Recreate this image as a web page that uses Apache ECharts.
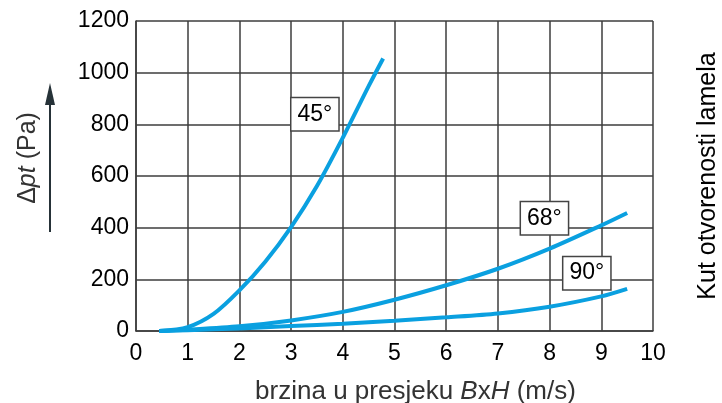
<!DOCTYPE html>
<html>
<head>
<meta charset="utf-8">
<script src="https://cdn.jsdelivr.net/npm/echarts@6/dist/echarts.min.js"></script>
<style>html,body{margin:0;padding:0;background:#fff}#c{width:722px;height:403px}</style>
</head>
<body>
<div id="c"></div>
<script>
// Tick settings
const xMin = 0, xMax = 10, xStep = 1;
const yMin = 0, yMax = 1200, yStep = 200;

// Curve 45°
const x45 = [0.45, 1, 1.5, 2, 2.5, 3, 3.5, 4, 4.5, 4.78];
const y45 = [0, 15, 66, 157, 268, 402, 561, 748, 948, 1055];
// Curve 68°
const x68 = [0.45, 1, 2, 3, 4, 5, 6, 7, 8, 9, 9.5];
const y68 = [0, 5, 18, 41, 74, 121, 177, 241, 319, 409, 457];
// Curve 90°
const x90 = [0.45, 1, 2, 3, 4, 5, 6, 7, 8, 9, 9.5];
const y90 = [0, 3, 10, 19, 28, 40, 53, 68, 94, 134, 163];

const seriesNames = ['45°', '68°', '90°'];
// label anchor positions in data coordinates
const labelX = [3.46, 7.9, 8.72];
const labelY = [839, 436, 224];

const FONT = '"Liberation Sans", Arial, Helvetica, sans-serif';
const lineColor = '#0aa0e0';
const gridColor = '#3c3c3c';

const toPairs = (xs, ys) => xs.map((x, i) => [x, ys[i]]);
const curves = [toPairs(x45, y45), toPairs(x68, y68), toPairs(x90, y90)];

const chart = echarts.init(document.getElementById('c'), null, {renderer: 'canvas'});

const series = curves.map((data, i) => ({
  name: seriesNames[i],
  type: 'line',
  data: data,
  smooth: 0.3,
  showSymbol: false,
  symbol: 'none',
  lineStyle: {color: lineColor, width: 4, cap: 'butt'},
  z: 3,
  silent: true,
  markPoint: {
    symbol: 'rect',
    symbolSize: 0.01,
    silent: true,
    z: 5,
    label: {
      show: true,
      position: 'inside',
      formatter: seriesNames[i],
      fontFamily: FONT,
      fontSize: 23,
      color: '#000',
      backgroundColor: '#fff',
      borderColor: '#444',
      borderWidth: 1.5,
      padding: [5, 6, 4, 6],
      lineHeight: 23
    },
    data: [{coord: [labelX[i], labelY[i]]}]
  }
}));

chart.setOption({
  animation: false,
  backgroundColor: '#fff',
  grid: {left: 136, top: 21, right: 69, bottom: 72, containLabel: false, outerBoundsMode: 'none'},
  xAxis: {
    type: 'value', min: xMin, max: xMax, interval: xStep,
    name: '{n|brzina u presjeku }{i|B}{n|x}{i|H}{n| (m/s)}',
    nameLocation: 'middle',
    nameGap: 48,
    nameTextStyle: {
      padding: [0, 0, 0, 42],
      rich: {
        n: {fontFamily: FONT, fontSize: 26, color: '#333'},
        i: {fontFamily: FONT, fontSize: 26, color: '#333', fontStyle: 'italic'}
      }
    },
    axisLine: {show: true, lineStyle: {color: gridColor, width: 1.5}},
    axisTick: {show: false},
    axisLabel: {fontFamily: FONT, fontSize: 23, color: '#000', margin: 11},
    splitLine: {show: true, lineStyle: {color: gridColor, width: 1.5}}
  },
  yAxis: {
    type: 'value', min: yMin, max: yMax, interval: yStep,
    axisLine: {show: true, lineStyle: {color: gridColor, width: 1.5}},
    axisTick: {show: false},
    axisLabel: {fontFamily: FONT, fontSize: 23, color: '#000', margin: 7, formatter: v => String(v)},
    splitLine: {show: true, lineStyle: {color: gridColor, width: 1.5}}
  },
  graphic: [
    {
      type: 'text',
      x: 28, y: 158,
      rotation: Math.PI / 2,
      style: {
        text: '{n|Δ}{i|pt}{n| (Pa)}',
        align: 'center', verticalAlign: 'middle',
        rich: {
          n: {fontFamily: FONT, fontSize: 25, fill: '#333'},
          i: {fontFamily: FONT, fontSize: 25, fill: '#333', fontStyle: 'italic'}
        }
      }
    },
    {
      type: 'line',
      shape: {x1: 50, y1: 232, x2: 50, y2: 100},
      style: {stroke: '#263238', lineWidth: 2}
    },
    {
      type: 'polygon',
      shape: {points: [[50, 83], [45, 105], [55, 105]]},
      style: {fill: '#263238'}
    },
    {
      type: 'text',
      x: 708, y: 176,
      rotation: Math.PI / 2,
      style: {
        text: 'Kut otvorenosti lamela',
        align: 'center', verticalAlign: 'middle',
        fontFamily: FONT, fontSize: 25, fill: '#000'
      }
    }
  ],
  series: series
});
</script>
</body>
</html>
